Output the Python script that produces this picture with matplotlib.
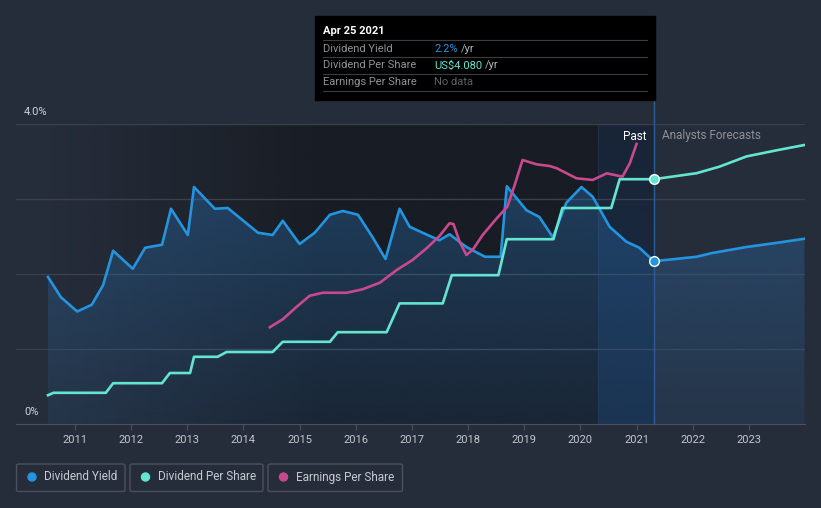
import numpy as np
import matplotlib
matplotlib.use('Agg')
import matplotlib.pyplot as plt
import matplotlib.patches as patches

plt.rcParams['font.family'] = ['Roboto', 'DejaVu Sans']

# Dividend yield (%), past and forecast
yield_dates = [2010.52, 2010.75, 2011.04, 2011.30, 2011.50, 2011.68, 2012.03, 2012.25,
               2012.55, 2012.71, 2013.01, 2013.12, 2013.49, 2013.72, 2014.26, 2014.52,
               2014.70, 2015.00, 2015.27, 2015.54, 2015.77, 2016.04, 2016.30, 2016.53,
               2016.78, 2016.96, 2017.19, 2017.49, 2017.67, 2017.97, 2018.30, 2018.58,
               2018.69, 2019.04, 2019.27, 2019.51, 2019.75, 2020.02, 2020.22, 2020.52,
               2020.82, 2021.05, 2021.31]
yield_values = [1.96, 1.69, 1.50, 1.59, 1.85, 2.31, 2.07, 2.35,
                2.39, 2.87, 2.52, 3.16, 2.87, 2.88, 2.55, 2.52,
                2.71, 2.40, 2.55, 2.79, 2.84, 2.79, 2.49, 2.20,
                2.87, 2.63, 2.55, 2.45, 2.53, 2.36, 2.23, 2.23,
                3.17, 2.85, 2.76, 2.49, 2.95, 3.16, 3.03, 2.63,
                2.43, 2.35, 2.17]
yield_fc_dates = [2021.31, 2022.07, 2022.35, 2022.96, 2023.54, 2023.99]
yield_fc_values = [2.17, 2.23, 2.28, 2.36, 2.42, 2.47]

# Dividend per share (US$)
dps_dates = [2010.52, 2010.62, 2011.55, 2011.68, 2012.55, 2012.69, 2013.05, 2013.12,
             2013.54, 2013.70, 2014.52, 2014.70, 2015.54, 2015.68, 2016.55, 2016.78,
             2017.55, 2017.71, 2018.54, 2018.69, 2019.52, 2019.68, 2020.55, 2020.70,
             2021.31]
dps_values = [0.48, 0.52, 0.52, 0.68, 0.68, 0.85, 0.85, 1.12,
              1.12, 1.20, 1.20, 1.37, 1.37, 1.53, 1.53, 2.01,
              2.01, 2.48, 2.48, 3.08, 3.08, 3.60, 3.60, 4.08,
              4.08]
dps_fc_dates = [2021.31, 2022.07, 2022.48, 2022.96, 2023.54, 2023.99]
dps_fc_values = [4.08, 4.18, 4.29, 4.46, 4.57, 4.65]

# Earnings per share (US$)
eps_dates = [2014.47, 2014.70, 2014.95, 2015.18, 2015.41, 2015.84, 2016.12, 2016.43,
             2016.73, 2017.01, 2017.26, 2017.49, 2017.67, 2017.74, 2017.85, 2017.97,
             2018.08, 2018.26, 2018.51, 2018.70, 2018.83, 2018.97, 2019.22, 2019.45,
             2019.58, 2019.93, 2020.22, 2020.47, 2020.75, 2020.88, 2021.00]
eps_values = [6.45, 6.98, 7.82, 8.55, 8.75, 8.75, 8.98, 9.42,
              10.27, 10.93, 11.71, 12.53, 13.38, 13.33, 12.15, 11.27,
              11.60, 12.60, 13.71, 14.49, 15.93, 17.60, 17.31, 17.20,
              17.05, 16.38, 16.27, 16.71, 16.49, 17.38, 18.67]

year_ticks = list(range(2011, 2024))
now = 2021.31
highlight_start = 2020.32

W, H = 821, 508
BG = '#262d3a'
BLUE = '#2394df'
TEAL = '#64e5d0'
PINK = '#c8498d'


def fx(x):
    return x / W


def fy(y):
    return 1 - y / H


fig = plt.figure(figsize=(W / 100, H / 100), dpi=100, facecolor=BG)
ax = fig.add_axes([fx(16), fy(424), fx(805 - 16), 300 / H])
ax.set_facecolor(BG)
x0, x1 = 2009.95, 2024.0

# darker "past" background with a horizontal fade
ramp = np.clip(np.linspace(0, 1, 300) / 0.45, 0, 1) * 0.75
bg = np.zeros((1, 300, 4))
bg[..., :3] = matplotlib.colors.to_rgb('#14171d')
bg[..., 3] = ramp
ax.imshow(bg, extent=[yield_dates[0], now, 0, 4], aspect='auto', zorder=0.5,
          interpolation='bilinear')

# last-year highlight, a bit stronger near the bottom
hl = np.zeros((100, 1, 4))
hl[..., :3] = matplotlib.colors.to_rgb('#1d4f8f')
hl[:, 0, 3] = np.linspace(0.18, 0.32, 100)
ax.imshow(hl, extent=[highlight_start, now, 0, 4], aspect='auto', zorder=0.6,
          interpolation='bilinear', origin='upper')
ax.axvline(highlight_start, color='#1c3050', lw=0.8, zorder=0.7)

for v in [1, 2, 3, 4]:
    ax.axhline(v, color='#3a414d', lw=1, zorder=0.8)

# gradient fill under dividend yield
all_dates = yield_dates + yield_fc_dates[1:]
all_vals = yield_values + yield_fc_values[1:]
poly = ax.fill_between(all_dates, all_vals, 0, color='none', lw=0)
grad = np.zeros((200, 1, 4))
grad[..., :3] = matplotlib.colors.to_rgb('#2a72b5')
grad[:, 0, 3] = np.linspace(0.40, 0.12, 200)
img = ax.imshow(grad, extent=[all_dates[0], all_dates[-1], 0, 3.3], aspect='auto',
                zorder=1, interpolation='bilinear', origin='upper')
img.set_clip_path(poly.get_paths()[0], transform=ax.transData)

ax.plot(yield_dates, yield_values, color=BLUE, lw=1.9, zorder=3, solid_joinstyle='round')
ax.plot(yield_fc_dates, yield_fc_values, color=BLUE, lw=1.9, zorder=3, solid_joinstyle='round')

ax2 = ax.twinx()
ax2.set_ylim(0, 5.0)
ax2.axis('off')
ax2.plot(dps_dates, dps_values, color=TEAL, lw=1.9, zorder=3, solid_joinstyle='round')
ax2.plot(dps_fc_dates, dps_fc_values, color=TEAL, lw=1.9, zorder=3, solid_joinstyle='round')
ax2.plot([now], [dps_values[-1]], 'o', ms=7, mfc=TEAL, mec='white', mew=1, zorder=5)

ax3 = ax.twinx()
ax3.set_ylim(0, 20)
ax3.axis('off')
ax3.plot(eps_dates, eps_values, color=PINK, lw=1.9, zorder=3, solid_joinstyle='round')

# "today" line, running up to the tooltip
ax2.plot([now, now], [0, 5.0 * (4 + 24 / 75) / 4], color='#2b5c9c', lw=1,
         clip_on=False, zorder=4)
ax3.plot([now], [yield_values[-1] * 5], 'o', ms=7, mfc=BLUE, mec='white', mew=1,
         zorder=6)

for a in (ax, ax2, ax3):
    a.set_xlim(x0, x1)
ax.set_ylim(0, 4)
ax.set_yticks([])
for s in ['top', 'right', 'left']:
    ax.spines[s].set_visible(False)
ax.spines['bottom'].set_color('#4c525d')
ax.set_xticks(year_ticks)
ax.set_xticklabels([str(y) for y in year_ticks])
ax.tick_params(axis='x', colors='#4c525d', length=4, labelcolor='#c2c6cd',
               labelsize=8, pad=4)

fig.text(fx(24), fy(112), '4.0%', color='#d0d3d8', fontsize=8, va='center')
fig.text(fx(24), fy(412), '0%', color='#d0d3d8', fontsize=8, va='center')
fig.text(fx(646), fy(136), 'Past', color='white', fontsize=8.5, ha='right', va='center')
fig.text(fx(662), fy(136), 'Analysts Forecasts', color='#8d9199', fontsize=8.5,
         va='center')

# tooltip
fig.patches.append(patches.Rectangle((fx(315), fy(100)), fx(340), 84 / H,
                                     transform=fig.transFigure, color='black', zorder=10))
fig.text(fx(323), fy(31), 'Apr 25 2021', color='white', fontsize=8, weight='bold',
         va='center', zorder=11)
for yy in [40, 57, 74, 91]:
    fig.add_artist(plt.Line2D([fx(323), fx(647)], [fy(yy), fy(yy)], color='#3a3d42',
                              lw=0.8, zorder=11))
rows = [('Dividend Yield', '2.2%', BLUE, 461),
        ('Dividend Per Share', 'US$4.080', TEAL, 485),
        ('Earnings Per Share', 'No data', '#5d6168', None)]
for i, (name, val, col, unit_x) in enumerate(rows):
    yy = 48.5 + 17 * i
    fig.text(fx(323), fy(yy), name, color='#8f939b', fontsize=8, va='center', zorder=11)
    fig.text(fx(434), fy(yy), val, color=col, fontsize=8, va='center', zorder=11)
    if unit_x:
        fig.text(fx(unit_x), fy(yy), '/yr', color='#b0b3b9', fontsize=8, va='center',
                 zorder=11)

# legend boxes
legend = [('Dividend Yield', BLUE, 16.5, 125), ('Dividend Per Share', TEAL, 130, 263),
          ('Earnings Per Share', PINK, 268, 402.5)]
for name, col, lx, rx in legend:
    fig.patches.append(patches.FancyBboxPatch(
        (fx(lx), fy(491.5)), fx(rx - lx), 27.5 / H, boxstyle='round,pad=0,rounding_size=0.003',
        transform=fig.transFigure, fc='none', ec='#4a505c', lw=1))
    fig.add_artist(patches.Ellipse((fx(lx + 15.5), fy(477)), fx(8), 8 / H,
                                   transform=fig.transFigure, color=col))
    fig.text(fx(lx + 27.5), fy(477), name, color='#c7cad0', fontsize=8.5, va='center')

fig.savefig('out.png', dpi=100, facecolor=BG)
